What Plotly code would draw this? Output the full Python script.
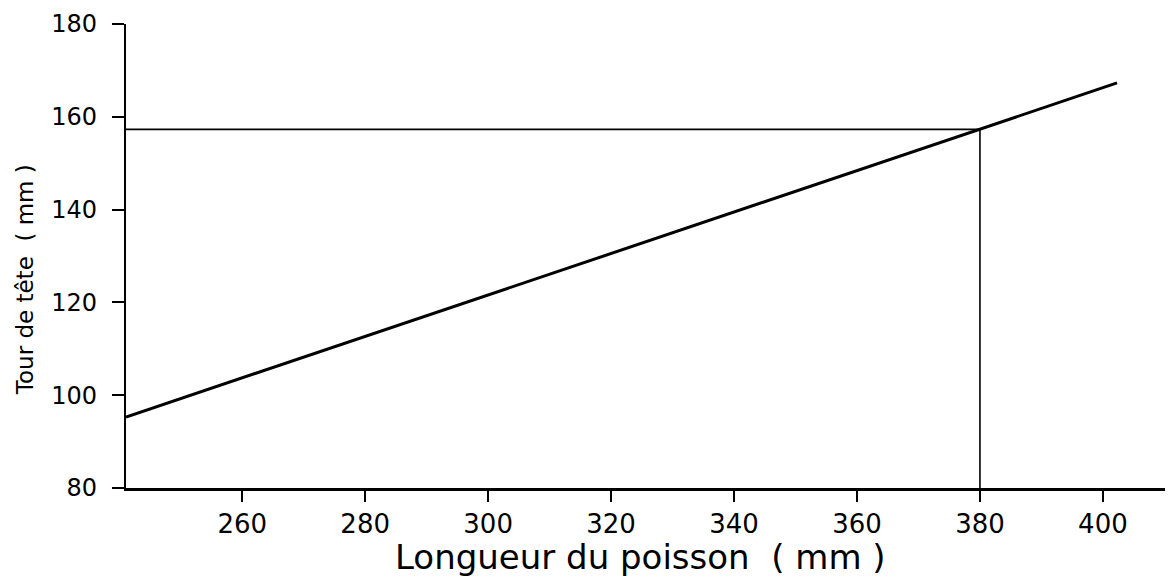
import plotly.graph_objects as go

# Data
fit_x = [241.1, 402.3]
fit_y = [95.3, 167.3]
ref_x = 380
ref_y = 157.3
x_range = [241.1, 411.4]
y_range = [80, 180]
x_ticks = [260, 280, 300, 320, 340, 360, 380, 400]
y_ticks = [80, 100, 120, 140, 160, 180]
x_title = "Longueur du poisson  ( mm )"
y_title = "Tour de tête  ( mm )"

FONT = "DejaVu Sans"

fig = go.Figure()
fig.add_trace(go.Scatter(x=fit_x, y=fit_y, mode="lines",
                         line=dict(color="black", width=3), showlegend=False, hoverinfo="skip"))
fig.add_trace(go.Scatter(x=[x_range[0], ref_x], y=[ref_y, ref_y], mode="lines",
                         line=dict(color="black", width=1.6), showlegend=False, hoverinfo="skip"))
fig.add_trace(go.Scatter(x=[ref_x, ref_x], y=[y_range[0], ref_y], mode="lines",
                         line=dict(color="black", width=1.6), showlegend=False, hoverinfo="skip"))

fig.update_layout(
    width=1165, height=576,
    margin=dict(l=118, r=0, t=16, b=96),
    plot_bgcolor="white", paper_bgcolor="white",
    font=dict(family=FONT, size=22, color="black"),
    xaxis=dict(range=x_range, tickvals=x_ticks, ticks="outside", ticklen=11, tickwidth=2,
               tickcolor="black", showline=True, linecolor="black", linewidth=2.5,
               showgrid=False, zeroline=False, ticklabelstandoff=0,
               tickfont=dict(family=FONT, size=26)),
    yaxis=dict(range=y_range, tickvals=y_ticks, ticks="outside", ticklen=12, tickwidth=2,
               tickcolor="black", showline=True, linecolor="black", linewidth=2.2,
               showgrid=False, zeroline=False, ticklabelstandoff=10,
               tickfont=dict(family=FONT, size=24)),
    annotations=[
        dict(text=x_title, xref="paper", yref="paper", x=0.491, y=-0.149,
             xanchor="center", yanchor="middle", showarrow=False,
             font=dict(family=FONT, size=34)),
        dict(text=y_title, xref="paper", yref="paper", x=-0.0965, y=0.45,
             xanchor="center", yanchor="middle", showarrow=False, textangle=-90,
             font=dict(family=FONT, size=23)),
    ],
)

fig.write_html("out.html")
